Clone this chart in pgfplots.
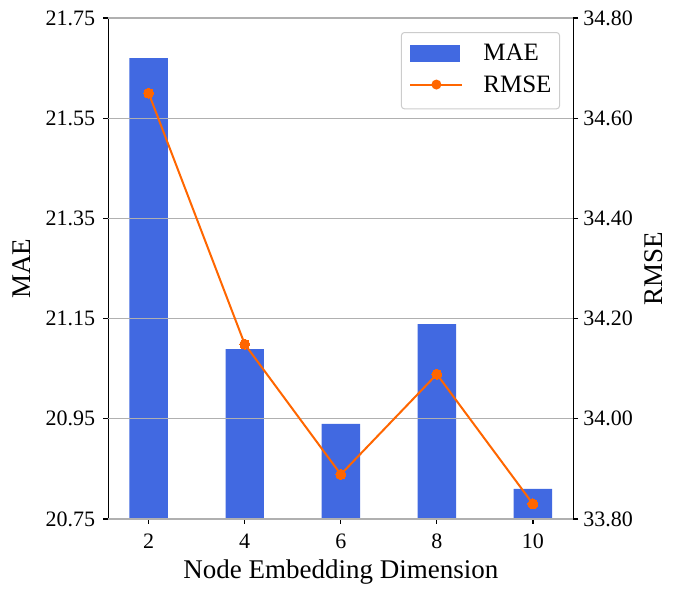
\documentclass[border=0pt]{standalone}
\usepackage{pgfplots}
\pgfplotsset{compat=1.18}
\usetikzlibrary{calc}
\usepackage{fontspec}
\setmainfont{Liberation Serif}
\definecolor{barblue}{HTML}{4169E1}
\definecolor{lineorange}{HTML}{FF6600}
\definecolor{gridgray}{HTML}{B0B0B0}
\definecolor{legendgray}{HTML}{CCCCCC}
\newcommand{\tk}[1]{\fontsize{22}{25}\selectfont #1}
\begin{document}
\begin{tikzpicture}
\pgfplotsset{
  common/.style={
    width=465pt, height=501pt, scale only axis,
    xmin=1.16, xmax=10.84,
    tick align=outside,
    major tick length=4.9pt,
    every tick/.style={black, line width=1.1pt},
    axis line style={line width=1.1pt},
    every tick label/.append style={inner sep=0pt},
    label style={font=\fontsize{27}{30}\selectfont, inner sep=0pt},
  }
}
\begin{axis}[common, name=ax1,
  ymin=20.75, ymax=21.75,
  ytick={20.75,20.95,21.15,21.35,21.55,21.75},
  yticklabels={\tk{20.75},\tk{20.95},\tk{21.15},\tk{21.35},\tk{21.55},\tk{21.75}},
  xtick={2,4,6,8,10},
  xticklabels={\tk{2},\tk{4},\tk{6},\tk{8},\tk{10}},
  xtick pos=bottom, ytick pos=left,
  xticklabel style={yshift=-10pt},
  yticklabel style={xshift=-8pt},
  xlabel={Node Embedding Dimension},
  ylabel={MAE},
  xlabel style={at={(axis description cs:0.5,-0.118)}, anchor=base},
  ylabel style={at={(axis description cs:-0.1856,0.5)}, anchor=center},
]
\addplot[ybar, bar width=0.8, fill=barblue, draw=none, bar shift=0pt]
  coordinates {(2,21.670) (4,21.089) (6,20.940) (8,21.139) (10,20.810)};
\end{axis}
\begin{axis}[common, name=ax2,
  axis x line=none,
  axis y line*=right,
  ymin=33.80, ymax=34.80,
  ytick={33.80,34.00,34.20,34.40,34.60,34.80},
  yticklabels={\tk{33.80},\tk{34.00},\tk{34.20},\tk{34.40},\tk{34.60},\tk{34.80}},
  yticklabel style={xshift=5pt},
  ymajorgrids,
  grid style={gridgray, line width=1.1pt},
  ylabel={RMSE},
  ylabel style={at={(axis description cs:1.1735,0.5)}, anchor=center},
  legend style={at={(axis description cs:0.9714,0.972)}, anchor=north east,
    draw=legendgray, line width=1pt, rounded corners=3pt, fill=white,
    fill opacity=0.8, text opacity=1,
    font=\fontsize{25}{28}\selectfont,
    inner xsep=8pt, inner ysep=11.7pt, row sep=13.3pt, column sep=20pt,
    nodes={inner sep=0pt}},
  legend cell align=left,
]
\addlegendimage{legend image code/.code={\fill[barblue, fill opacity=1, draw=none, sharp corners] (0pt,-8.5pt) rectangle (50pt,8.5pt);}}
\addlegendentry{MAE}
\addplot[color=lineorange, line width=2pt, mark=*, mark size=5pt,
  mark options={fill=lineorange, draw=lineorange, line width=0pt},
  legend image code/.code={\path[draw=none, fill=none] (0pt,-12.6pt) rectangle (52pt,5pt);
    \draw[lineorange, line width=2pt, draw opacity=1] (0pt,0pt) -- (52pt,0pt);
    \fill[lineorange, fill opacity=1, draw=none] (26pt,0pt) circle (5pt);}]
  coordinates {(2,34.650) (4,34.149) (6,33.889) (8,34.089) (10,33.830)};
\addlegendentry{RMSE}
\end{axis}
\pgfresetboundingbox
\path ($(ax1.south west)+(-108.3pt,-75pt)$) rectangle ($(ax1.north east)+(106.7pt,18pt)$);
\end{tikzpicture}
\end{document}
